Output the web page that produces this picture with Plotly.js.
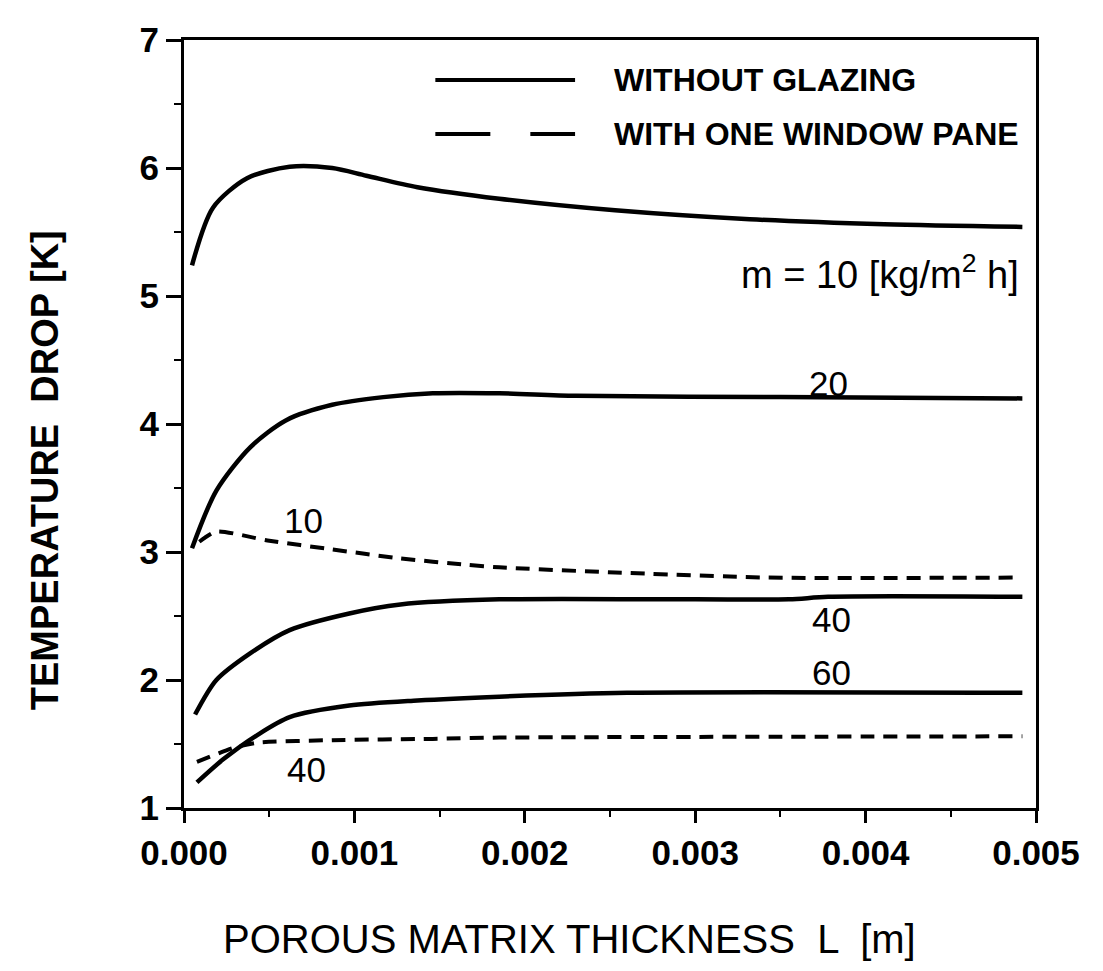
<!DOCTYPE html>
<html>
<head>
<meta charset="utf-8">
<script src="https://cdn.plot.ly/plotly-3.0.1.min.js"></script>
<style>html,body{margin:0;padding:0;background:#fff;}#chart{width:1103px;height:971px;}</style>
</head>
<body>
<div id="chart"></div>
<script>
// Series
const noGlazing10X = [0.000047,0.00017,0.00037,0.00062,0.00087,0.00107,0.00137,0.00185,0.00253,0.00332,0.00411,0.00492];
const noGlazing10Y = [5.24,5.69,5.92,6.01,6.00,5.94,5.85,5.76,5.67,5.60,5.56,5.54];

const noGlazing20X = [0.000047,0.00019,0.00039,0.00060,0.00087,0.00117,0.00146,0.00185,0.00230,0.00350,0.00492];
const noGlazing20Y = [3.03,3.48,3.82,4.03,4.15,4.21,4.24,4.24,4.22,4.21,4.20];

const pane10X = [0.00009,0.00019,0.00049,0.00087,0.00127,0.00166,0.00185,0.00253,0.00343,0.00488];
const pane10Y = [3.08,3.16,3.09,3.02,2.95,2.90,2.88,2.84,2.80,2.80];

const noGlazing40X = [0.000065,0.00019,0.00039,0.00062,0.00097,0.00127,0.00185,0.00300,0.00355,0.00378,0.00492];
const noGlazing40Y = [1.73,2.00,2.21,2.39,2.52,2.59,2.63,2.63,2.63,2.65,2.65];

const noGlazing60X = [0.000076,0.00023,0.00043,0.00062,0.00097,0.00137,0.00185,0.00260,0.00492];
const noGlazing60Y = [1.20,1.38,1.57,1.71,1.80,1.84,1.87,1.90,1.90];

const pane40X = [0.000076,0.00029,0.00043,0.00087,0.00146,0.00185,0.00492];
const pane40Y = [1.36,1.47,1.51,1.53,1.54,1.55,1.56];

const xTicks = [0, 0.001, 0.002, 0.003, 0.004, 0.005];
const xTickText = ["0.000","0.001","0.002","0.003","0.004","0.005"];
const yTicks = [1,2,3,4,5,6,7];

const xTitle = "POROUS MATRIX THICKNESS  L  [m]";
const yTitle = "TEMPERATURE  DROP [K]";
const legendLabels = ["WITHOUT GLAZING", "WITH ONE WINDOW PANE"];
const curveLabels = ["m = 10 [kg/m<sup>2</sup> h]", "20", "10", "40", "60", "40"];
const curveLabelX = [0.00491, 0.00378, 0.00070, 0.00380, 0.00380, 0.00072];
const curveLabelY = [5.19, 4.32, 3.25, 2.47, 2.06, 1.30];

const FONT = "'Liberation Sans', Arial, Helvetica, sans-serif";
const solid = {color:'#000', width:4.5, shape:'spline', smoothing:0.8};
const dashed = {color:'#000', width:4, dash:'14px,9px', shape:'spline', smoothing:0.6};

const traces = [
  {x:noGlazing10X, y:noGlazing10Y, mode:'lines', line:solid},
  {x:noGlazing20X, y:noGlazing20Y, mode:'lines', line:solid},
  {x:pane10X, y:pane10Y, mode:'lines', line:dashed},
  {x:noGlazing40X, y:noGlazing40Y, mode:'lines', line:solid},
  {x:noGlazing60X, y:noGlazing60Y, mode:'lines', line:solid},
  {x:pane40X, y:pane40Y, mode:'lines', line:dashed}
];

const annotations = curveLabels.map((t,i)=>({
  x:curveLabelX[i], y:curveLabelY[i], xref:'x', yref:'y', text:t, showarrow:false,
  xanchor: i===0 ? 'right' : 'center', yanchor:'middle',
  font:{family:FONT, size: i===0 ? 38 : 35, color:'#000'}
}));
annotations.push(
  {x:0.502, y:0.948, xref:'paper', yref:'paper', text:legendLabels[0], showarrow:false, xanchor:'left', yanchor:'middle', font:{family:FONT, size:32, color:'#000', weight:'bold'}},
  {x:0.502, y:0.8776, xref:'paper', yref:'paper', text:legendLabels[1], showarrow:false, xanchor:'left', yanchor:'middle', font:{family:FONT, size:32, color:'#000', weight:'bold'}},
  {x:-0.163, y:0.44, xref:'paper', yref:'paper', text:yTitle, textangle:-90, showarrow:false, xanchor:'center', yanchor:'middle', font:{family:FONT, size:38, color:'#000', weight:'bold'}},
  {x:0.453, y:-0.17, xref:'paper', yref:'paper', text:xTitle, showarrow:false, xanchor:'center', yanchor:'middle', font:{family:FONT, size:40, color:'#000'}}
);

const shapes = [
  {type:'line', xref:'paper', yref:'paper', x0:0.295, x1:0.459, y0:0.948, y1:0.948, line:{color:'#000', width:4}},
  {type:'line', xref:'paper', yref:'paper', x0:0.295, x1:0.459, y0:0.8776, y1:0.8776, line:{color:'#000', width:4, dash:'55px,40px'}}
];

const layout = {
  width:1103, height:971,
  margin:{l:184, r:67, t:40, b:163},
  paper_bgcolor:'#fff', plot_bgcolor:'#fff',
  showlegend:false,
  font:{family:FONT, color:'#000'},
  xaxis:{
    range:[0,0.005], tickvals:xTicks, ticktext:xTickText,
    ticks:'outside', ticklen:12, tickwidth:3, tickcolor:'#000',
    minor:{ticks:'outside', ticklen:6, tickwidth:2, tickcolor:'#000', dtick:0.0005, showgrid:false},
    showline:true, linecolor:'#000', linewidth:3, mirror:true,
    showgrid:false, zeroline:false,
    tickfont:{family:FONT, size:35, color:'#000', weight:'bold'}
  },
  yaxis:{
    range:[1,7], tickvals:yTicks,
    ticks:'outside', ticklen:15, tickwidth:3, tickcolor:'#000',
    minor:{ticks:'outside', ticklen:7, tickwidth:2, tickcolor:'#000', dtick:0.5, showgrid:false},
    showline:true, linecolor:'#000', linewidth:3, mirror:true,
    showgrid:false, zeroline:false,
    tickfont:{family:FONT, size:35, color:'#000', weight:'bold'}
  },
  annotations:annotations,
  shapes:shapes
};

Plotly.newPlot('chart', traces, layout, {staticPlot:true, displayModeBar:false});
</script>
</body>
</html>
